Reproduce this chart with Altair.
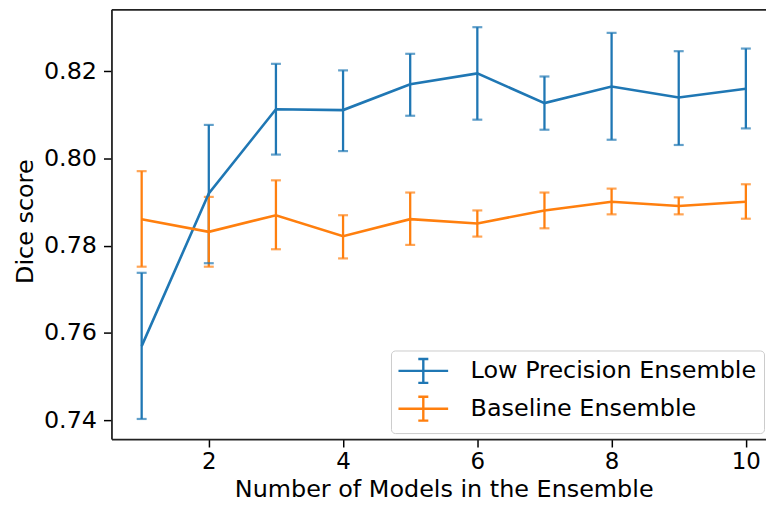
import altair as alt
import pandas as pd

models = [1, 2, 3, 4, 5, 6, 7, 8, 9, 10]

lp_mean = [0.757, 0.792, 0.8113, 0.8111, 0.8170, 0.8195, 0.8127, 0.8165, 0.8140, 0.8160]
lp_low = [0.7403, 0.7760, 0.8009, 0.8017, 0.8098, 0.8089, 0.8066, 0.8043, 0.8031, 0.8069]
lp_high = [0.7738, 0.8077, 0.8217, 0.8202, 0.8240, 0.8301, 0.8188, 0.8288, 0.8246, 0.8252]

bl_mean = [0.7861, 0.7832, 0.7870, 0.7822, 0.7861, 0.7851, 0.7881, 0.7901, 0.7891, 0.7901]
bl_low = [0.7752, 0.7752, 0.7792, 0.7771, 0.7802, 0.7821, 0.7840, 0.7872, 0.7872, 0.7862]
bl_high = [0.7971, 0.7912, 0.7950, 0.7870, 0.7922, 0.7881, 0.7922, 0.7931, 0.7911, 0.7941]

series_names = ["Low Precision Ensemble", "Baseline Ensemble"]
series_colors = ["#1f77b4", "#ff7f0e"]

rows = []
for name, m, lo, hi in [
    (series_names[0], lp_mean, lp_low, lp_high),
    (series_names[1], bl_mean, bl_low, bl_high),
]:
    for i, x in enumerate(models):
        rows.append({"series": name, "x": x, "mean": m[i], "lo": lo[i], "hi": hi[i]})
df = pd.DataFrame(rows)

FONT = "DejaVu Sans"
FS = 24
SPINE = "#222222"

xscale = alt.Scale(domain=[0.55, 10.30], nice=False, zero=False)
yscale = alt.Scale(domain=[0.7357, 0.8342], nice=False, zero=False)

# errorbar-like legend glyph: 12 px per unit (symbolSize 576 -> sqrt 24)
sym = "M-1.08,0H3.08M1,-1V1M0.58,-1H1.42M0.58,1H1.42"

color = alt.Color(
    "series:N",
    scale=alt.Scale(domain=series_names, range=series_colors),
    sort=series_names,
    legend=alt.Legend(
        title=None,
        orient="none",
        legendX=281,
        legendY=343,
        symbolType=sym,
        symbolSize=576,
        symbolStrokeWidth=2.4,
        symbolOpacity=1,
        symbolFillColor="transparent",
        labelFont=FONT,
        labelFontSize=FS,
        labelColor="black",
        labelLimit=400,
        labelOffset=46,
        padding=7,
        rowPadding=3,
        strokeColor="#cccccc",
        fillColor="white",
        cornerRadius=4,
    ),
)

xaxis = alt.Axis(
    values=[2, 4, 6, 8, 10],
    format="d",
    title="Number of Models in the Ensemble",
    grid=False,
    domain=True,
    domainColor=SPINE,
    domainWidth=1.8,
    tickSize=8,
    tickWidth=1.5,
    tickColor="black",
    labelPadding=4,
    labelFont=FONT,
    labelFontSize=23,
    labelColor="black",
    titleFont=FONT,
    titleFontSize=FS,
    titleFontWeight="normal",
    titleColor="black",
    titleBaseline="alphabetic",
    titleX=334,
    titleY=58,
    labelFlush=False,
)
xaxis_top = alt.Axis(
    orient="top",
    title=None,
    labels=False,
    ticks=False,
    grid=False,
    domain=True,
    domainColor=SPINE,
    domainWidth=1.8,
)
yaxis = alt.Axis(
    values=[0.74, 0.76, 0.78, 0.80, 0.82],
    format=".2f",
    title="Dice score",
    grid=False,
    domain=True,
    domainColor=SPINE,
    domainWidth=1.8,
    tickSize=8,
    tickWidth=1.5,
    tickColor="black",
    labelPadding=7,
    labelFont=FONT,
    labelFontSize=FS,
    labelColor="black",
    titleFont=FONT,
    titleFontSize=FS,
    titleFontWeight="normal",
    titleColor="black",
    titleAngle=270,
    titleBaseline="alphabetic",
    titleAlign="center",
    titleX=-79,
    titleY=213,
    labelFlush=False,
)

base = alt.Chart(df)

rules = base.mark_rule(strokeWidth=2.3).encode(
    x=alt.X("x:Q", scale=xscale, axis=xaxis),
    y=alt.Y("lo:Q", scale=yscale, axis=yaxis),
    y2="hi:Q",
    color=color,
)
caps_lo = base.mark_tick(orient="horizontal", size=10, thickness=2.2).encode(
    x=alt.X("x:Q", scale=xscale, axis=xaxis_top),
    y=alt.Y("lo:Q", scale=yscale),
    color=color,
)
caps_hi = base.mark_tick(orient="horizontal", size=10, thickness=2.2).encode(
    x=alt.X("x:Q", scale=xscale, axis=None),
    y=alt.Y("hi:Q", scale=yscale),
    color=color,
)
lines = base.mark_line(strokeWidth=2.6).encode(
    x=alt.X("x:Q", scale=xscale, axis=None),
    y=alt.Y("mean:Q", scale=yscale),
    color=color,
    order="x:Q",
)

chart = (
    alt.layer(rules, caps_lo, caps_hi, lines)
    .resolve_axis(x="independent")
    .properties(
        width=658,
        height=432,
        autosize=alt.AutoSizeParams(type="none"),
        padding={"left": 104, "top": 0, "right": 0, "bottom": 64},
    )
    .configure(background="white")
    .configure_view(stroke=None)
)

chart.save("out.html", embed_options={"renderer": "svg", "actions": False})
